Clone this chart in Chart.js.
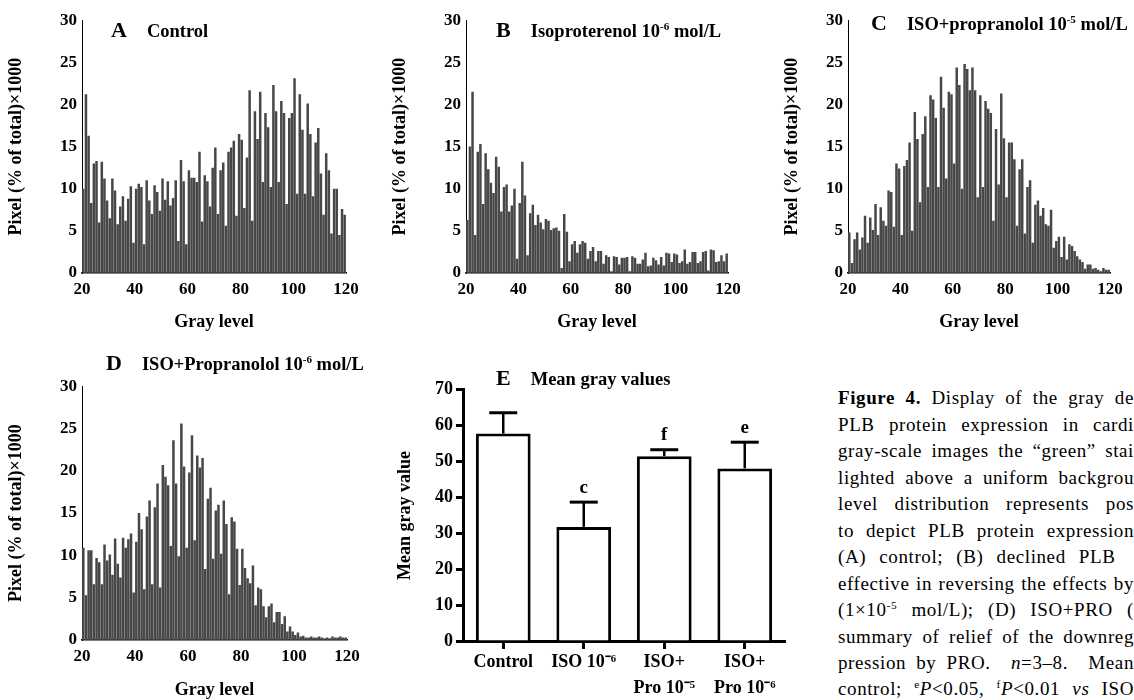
<!DOCTYPE html>
<html lang="en">
<head>
<meta charset="UTF-8">
<title>Figure 4</title>
<script src="https://cdn.jsdelivr.net/npm/chart.js@4.4.0/dist/chart.umd.min.js"></script>
<style>
  body { margin: 0; width: 1134px; height: 700px; overflow: hidden; background: #fff; position: relative; font-family: 'Liberation Serif', serif; color: #000; }
  canvas { position: absolute; }
  .ttl { position: absolute; font-weight: bold; white-space: nowrap; line-height: 1; }
  .ttl .big { font-size: 22px; }
  .ttl .sml { font-size: 18.5px; }
  sup { font-size: 0.6em; line-height: 0; vertical-align: super; }
  .cap { position: absolute; left: 838px; width: 296px; font-size: 19px; letter-spacing: 0.6px; line-height: 20px; height: 22px; text-align: justify; text-align-last: justify; white-space: nowrap; overflow: hidden; }
</style>
</head>
<body>

<canvas id="histA" width="364" height="332" style="left:2px; top:5px;"></canvas>
<canvas id="histB" width="362" height="332" style="left:386px; top:5px;"></canvas>
<canvas id="histC" width="352" height="332" style="left:778px; top:5px;"></canvas>
<canvas id="histD" width="365" height="334" style="left:2px; top:371px;"></canvas>
<canvas id="meanE" width="404" height="325" style="left:391px; top:376px;"></canvas>

<div class="ttl" style="left:111px; top:19px;"><span class="big">A</span><span class="sml" style="margin-left:20px;">Control</span></div>
<div class="ttl" style="left:496px; top:19px;"><span class="big">B</span><span class="sml" style="margin-left:20px;">Isoproterenol 10<sup>-6</sup> mol/L</span></div>
<div class="ttl" style="left:871px; top:12px;"><span class="big">C</span><span class="sml" style="margin-left:20px;">ISO+propranolol 10<sup>-5</sup> mol/L</span></div>
<div class="ttl" style="left:106px; top:352px;"><span class="big">D</span><span class="sml" style="margin-left:20px;">ISO+Propranolol 10<sup>-6</sup> mol/L</span></div>
<div class="ttl" style="left:496px; top:367px;"><span class="big">E</span><span class="sml" style="margin-left:20px;">Mean gray values</span></div>

<div class="cap" style="top:388px;"><b>Figure 4.</b> Display of the gray de</div>
<div class="cap" style="top:415px;">PLB protein expression in cardi</div>
<div class="cap" style="top:441px;">gray-scale images the “green” stai</div>
<div class="cap" style="top:468px;">lighted above a uniform backgrou</div>
<div class="cap" style="top:494px;">level distribution represents pos</div>
<div class="cap" style="top:521px;">to depict PLB protein expression</div>
<div class="cap" style="top:547px;">(A) control; (B) declined PLB&nbsp;&nbsp;</div>
<div class="cap" style="top:574px;">effective in reversing the effects by</div>
<div class="cap" style="top:600px;">(1×10<sup>-5</sup> mol/L); (D) ISO+PRO (</div>
<div class="cap" style="top:627px;">summary of relief of the downreg</div>
<div class="cap" style="top:653px;">pression by PRO.&nbsp; <i>n</i>=3–8.&nbsp; Mean</div>
<div class="cap" style="top:679px;">control; <sup>e</sup><i>P</i>&lt;0.05, <sup>f</sup><i>P</i>&lt;0.01 <i>vs</i> ISO</div>

<script>
// gray level bins (lower edge of each bin)
const grayLevels = [
  20, 21, 22, 23, 24, 25, 26, 27, 28, 29,
  30, 31, 32, 33, 34, 35, 36, 37, 38, 39,
  40, 41, 42, 43, 44, 45, 46, 47, 48, 49,
  50, 51, 52, 53, 54, 55, 56, 57, 58, 59,
  60, 61, 62, 63, 64, 65, 66, 67, 68, 69,
  70, 71, 72, 73, 74, 75, 76, 77, 78, 79,
  80, 81, 82, 83, 84, 85, 86, 87, 88, 89,
  90, 91, 92, 93, 94, 95, 96, 97, 98, 99,
  100, 101, 102, 103, 104, 105, 106, 107, 108, 109,
  110, 111, 112, 113, 114, 115, 116, 117, 118, 119
];

// pixel (% of total) x1000 per gray level
const controlPx = [
  10, 21.2, 16.3, 8.3, 13, 13.3, 6, 13.2, 11.2, 8.6,
  6.5, 11.2, 9.8, 5.8, 7.9, 9.1, 6.2, 8.8, 10.3, 3.6,
  10, 10.6, 10.2, 3.4, 11, 8.6, 7, 10.4, 9.6, 7.4,
  11.2, 8.7, 10.9, 8, 8.9, 11, 3.8, 13.4, 10.9, 3.4,
  12.2, 11.3, 11.3, 10.8, 14.4, 6.1, 11.6, 10.9, 7.9, 12.5,
  14.9, 7, 12.2, 13.1, 5.6, 14.4, 14.9, 15.7, 6.8, 16.5,
  15.8, 7.7, 13.7, 21.7, 6.2, 19.2, 15.9, 21.5, 10.8, 19,
  17.3, 10.2, 22.3, 19.2, 10.8, 20.4, 19, 8.2, 18.4, 19,
  23.1, 9.4, 21.2, 17, 9.4, 20.1, 16.5, 9.1, 15.5, 17.2,
  11.8, 6.9, 14.2, 12.2, 4.7, 10, 10, 4.5, 7.6, 6.9
];
const isoPx = [
  6.3, 15, 21.5, 4.5, 14.4, 15.3, 8.2, 14.2, 12.3, 10.7,
  9.5, 13.8, 12.6, 7.3, 10.2, 10.5, 7.3, 8, 10, 1.7,
  8.3, 13.2, 9.2, 2.1, 7.1, 8.1, 5.7, 6.9, 6, 5.2,
  6.4, 6.2, 5.1, 5.3, 5.4, 5, 0.6, 7, 4.9, 1.4,
  3.4, 3.8, 2.4, 3.4, 3.8, 3.6, 1.7, 2.6, 3.1, 1.4,
  2.6, 2.6, 1.1, 2.1, 1.9, 0.2, 2, 1.9, 1, 1.8,
  1.8, 1.9, 0.2, 2, 1.8, 1.1, 1.1, 1.6, 2.4, 0.8,
  0.9, 1.8, 1.5, 1, 1.9, 0.9, 2.4, 2.3, 1.3, 2.3,
  2.2, 1.2, 1.4, 2.8, 1.1, 1.3, 2.5, 2.5, 1.2, 1.4,
  2.5, 2.6, 0.3, 2.8, 2.7, 1.3, 1.4, 2.1, 1.4, 2.3
];
const isoPro5Px = [
  4.8, 1.2, 4.0, 4.8, 2.8, 4.2, 6.8, 3.6, 6.6, 5.1,
  8.2, 4.5, 7.8, 6.2, 5.6, 9.8, 9.6, 5.5, 13.0, 12.4,
  4.5, 12.7, 13.4, 15.5, 5.0, 19.1, 15.9, 8.4, 16.5, 18.6,
  10.2, 21.1, 20.6, 18.4, 10.2, 23.3, 19.6, 11.2, 21.5, 21.2,
  13.0, 24.4, 22.3, 10.0, 24.8, 24.2, 21.7, 24.4, 21.7, 9.0,
  21.1, 10.2, 20.4, 19.5, 19.0, 6.2, 17.1, 10.5, 21.3, 16.0,
  9.0, 15.5, 15.5, 13.5, 5.6, 12.3, 13.5, 4.7, 10.2, 11.0,
  3.6, 8.1, 8.6, 6.8, 7.7, 5.8, 5.6, 7.5, 3.0, 3.8,
  4.3, 1.9, 4.3, 1.6, 3.4, 3.2, 2.6, 2.0, 1.6, 1.3,
  0.5, 1.0, 1.0, 0.5, 0.6, 0.4, 0.2, 0.6, 0.4, 0.4
];
const isoPro6Px = [
  10.9, 5.3, 10.6, 10.6, 6.6, 9.7, 9.2, 6.6, 11.3, 9.4,
  10.1, 7.7, 12.0, 9.0, 7.4, 12.1, 10.9, 11.9, 12.6, 5.6,
  11.6, 15.0, 13.1, 6.0, 14.6, 16.5, 6.6, 15.7, 18.5, 6.2,
  20.7, 19.3, 18.3, 11.1, 23.6, 18.5, 9.9, 25.6, 20.5, 10.9,
  19.8, 24.2, 11.8, 21.8, 20.4, 21.5, 8.4, 16.7, 18.0, 9.6,
  15.3, 16.0, 10.2, 16.5, 13.7, 5.4, 14.5, 14.0, 10.8, 6.5,
  10.8, 8.5, 7.3, 6.7, 8.8, 4.1, 6.2, 6.0, 4.0, 2.7,
  4.0, 4.3, 2.1, 3.3, 3.3, 1.9, 2.8, 1.0, 1.6, 1.0,
  0.6, 0.9, 0.4, 0.5, 0.3, 0.3, 0.4, 0.3, 0.3, 0.4,
  0.3, 0.2, 0.3, 0.2, 0.4, 0.3, 0.3, 0.4, 0.3, 0.3
];

// panel E
const meanGroups = [['Control'], ['ISO 10⁻⁶'], ['ISO+', 'Pro 10⁻⁵'], ['ISO+', 'Pro 10⁻⁶']];
const meanValues = [57.8, 31.8, 51.5, 48.1];
const meanErrors = [5.8, 6.9, 1.8, 7.3];
const meanSig = ['', 'c', 'f', 'e'];

Chart.defaults.font.family = "'Liberation Serif', 'Times New Roman', serif";
Chart.defaults.color = '#000';

const tickFont = { size: 17, weight: 'bold' };
const axisFont = { size: 18, weight: 'bold' };

function histChart(id, values, yw, xh) {
  return new Chart(document.getElementById(id), {
    type: 'bar',
    data: {
      datasets: [{
        data: values.map((v, i) => ({ x: grayLevels[i] + 0.5, y: v })),
        backgroundColor: '#474747',
        borderWidth: 0,
        barPercentage: 0.95,
        categoryPercentage: 1
      }]
    },
    options: {
      responsive: false,
      animation: false,
      layout: { padding: { top: 12, right: 20, left: 0, bottom: 0 } },
      plugins: { legend: { display: false }, tooltip: { enabled: false } },
      scales: {
        x: {
          type: 'linear', min: 20, max: 120, offset: false,
          grid: { display: false, drawTicks: false },
          border: { color: '#000', width: 1.5 },
          ticks: { stepSize: 20, includeBounds: false, padding: 6, font: tickFont },
          title: { display: true, text: 'Gray level', font: axisFont },
          afterFit: s => { s.height = xh; }
        },
        y: {
          min: 0, max: 30,
          grid: { display: false, drawTicks: false },
          border: { color: '#000', width: 1 },
          ticks: { stepSize: 5, padding: 5, font: tickFont },
          title: { display: true, text: 'Pixel (% of total)×1000', font: axisFont },
          afterFit: s => { s.width = yw; }
        }
      }
    }
  });
}

histChart('histA', controlPx, 80, 64);
histChart('histB', isoPx, 80, 64);
histChart('histC', isoPro5Px, 70, 64);
histChart('histD', isoPro6Px, 80, 65);

// error bars + significance letters
const errorBars = {
  id: 'errorBars',
  afterDatasetsDraw(chart) {
    const ctx = chart.ctx;
    const y = chart.scales.y;
    chart.getDatasetMeta(0).data.forEach((bar, i) => {
      const top = y.getPixelForValue(meanValues[i] + meanErrors[i]);
      ctx.save();
      ctx.strokeStyle = '#000';
      ctx.lineWidth = 2.5;
      ctx.beginPath();
      ctx.moveTo(bar.x, bar.y);
      ctx.lineTo(bar.x, top);
      ctx.stroke();
      ctx.lineWidth = 3;
      ctx.beginPath();
      ctx.moveTo(bar.x - 14, top);
      ctx.lineTo(bar.x + 14, top);
      ctx.stroke();
      if (meanSig[i]) {
        ctx.fillStyle = '#000';
        ctx.font = "bold 19px 'Liberation Serif', serif";
        ctx.textAlign = 'center';
        ctx.textBaseline = 'bottom';
        ctx.fillText(meanSig[i], bar.x, top - 5);
      }
      ctx.restore();
    });
  }
};

new Chart(document.getElementById('meanE'), {
  type: 'bar',
  data: {
    labels: meanGroups,
    datasets: [{
      data: meanValues,
      backgroundColor: '#fff',
      borderColor: '#000',
      borderWidth: 3,
      barPercentage: 0.68,
      categoryPercentage: 1
    }]
  },
  options: {
    responsive: false,
    animation: false,
    layout: { padding: { top: 12, right: 10, left: 0, bottom: 0 } },
    plugins: { legend: { display: false }, tooltip: { enabled: false } },
    scales: {
      x: {
        grid: { display: true, drawOnChartArea: false, offset: false, tickLength: 8, tickWidth: 3, tickColor: '#000' },
        border: { color: '#000', width: 3 },
        ticks: { padding: 0, font: { size: 18, weight: 'bold', lineHeight: 1.45 } },
        afterFit: s => { s.height = 60; }
      },
      y: {
        min: 0, max: 70,
        grid: { display: true, drawOnChartArea: false, tickLength: 7, tickWidth: 3, tickColor: '#000' },
        border: { color: '#000', width: 3 },
        ticks: { stepSize: 10, padding: 3, font: { size: 18, weight: 'bold' } },
        title: { display: true, text: 'Mean gray value', font: { size: 18, weight: 'bold' } },
        afterFit: s => { s.width = 72; }
      }
    }
  },
  plugins: [errorBars]
});
</script>
</body>
</html>
